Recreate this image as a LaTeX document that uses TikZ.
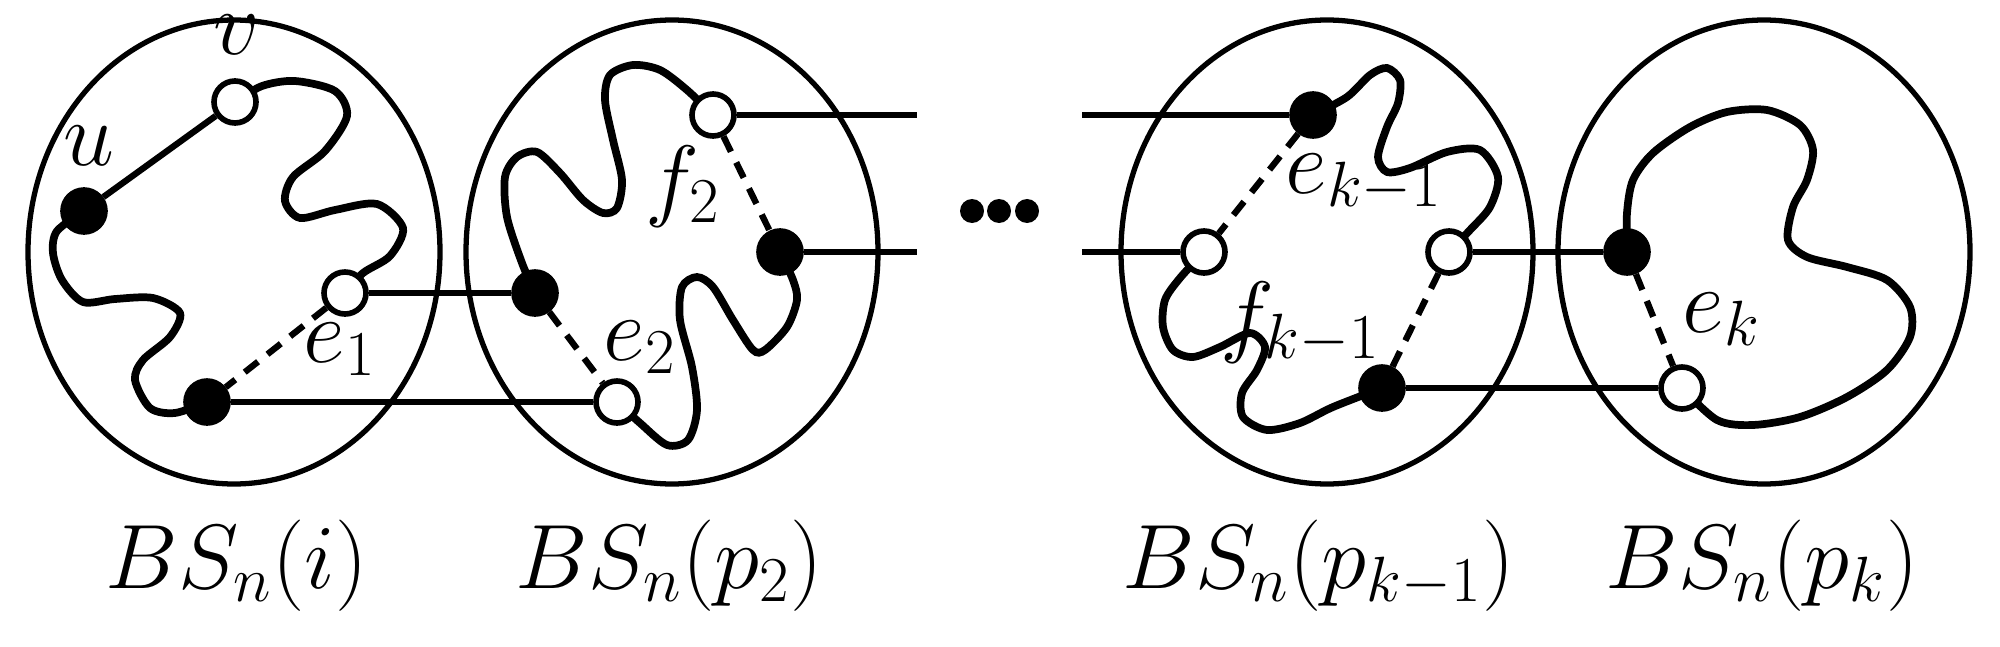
\RequirePackage{fix-cm}
\documentclass[tikz,border=0pt]{standalone}
\usepackage{tikz}
\usetikzlibrary{backgrounds}
\tikzset{
  ring/.style={draw,line width=1.5pt},
  wig/.style={line width=2.2pt,line cap=round},
  lnk/.style={line width=1.8pt},
  fk/.style={line width=1.8pt,dash pattern=on 0.17cm off 0.12cm},
  wv/.style={circle,draw,line width=1.6pt,fill=white,inner sep=0pt,minimum size=0.42cm},
  bv/.style={wv,fill=black},
  lab/.style={inner sep=0pt,anchor=base west},
  pt/.style={circle,fill=black,inner sep=0pt,minimum size=0.24cm}
}
\begin{document}
\begin{tikzpicture}[font=\fontsize{26}{31}\selectfont]
  \useasboundingbox (0,0) rectangle (20,6.46);
  % vertices
  \node[bv] (u) at (0.84,4.35) {};
  \node[wv] (v) at (2.35,5.44) {};
  \node[wv] (a1) at (3.45,3.53) {};
  \node[bv] (b1) at (2.07,2.44) {};
  \node[bv] (a2) at (5.35,3.53) {};
  \node[wv] (b2) at (6.17,2.44) {};
  \node[wv] (c2) at (7.13,5.31) {};
  \node[bv] (d2) at (7.80,3.94) {};
  \node[bv] (c3) at (13.13,5.31) {};
  \node[wv] (d3) at (12.04,3.94) {};
  \node[wv] (a3) at (14.49,3.94) {};
  \node[bv] (b3) at (13.82,2.58) {};
  \node[bv] (a4) at (16.27,3.94) {};
  \node[wv] (b4) at (16.82,2.58) {};
  \coordinate (c2e) at (9.17,5.31);
  \coordinate (d2e) at (9.17,3.94);
  \coordinate (c3s) at (10.82,5.31);
  \coordinate (d3s) at (10.82,3.94);
  \foreach \i/\x in {1/9.72,2/9.99,3/10.27}
    \node[pt] (dot\i) at (\x,4.35) {};

  % labels
  \node[lab] (lv) at (2.13,5.91) {$v$};
  \node[lab] (lu) at (0.63,4.81) {$u$};
  \node[lab] (le1) at (3.03,2.84) {$e_1$};
  \node[lab] (lf2) at (6.45,4.37) {$f_2$};
  \node[lab] (le2) at (6.03,2.86) {$e_2$};
  \node[lab] (lek1) at (12.85,4.53) {$e_{k-1}$};
  \node[lab] (lfk1) at (12.20,3.01) {$f_{k-1}$};
  \node[lab] (lek) at (16.82,3.14) {$e_k$};
  \node[lab] (bs1) at (1.05,0.58) {$BS_n(i)$};
  \node[lab] (bs2) at (5.15,0.58) {$BS_n(p_2)$};
  \node[lab] (bs3) at (11.22,0.58) {$BS_n(p_{k-1})$};
  \node[lab] (bs4) at (16.05,0.58) {$BS_n(p_k)$};

  \begin{scope}[on background layer]
    \foreach \x in {2.34,6.72,13.27,17.64}
      \draw[ring] (\x,3.94) ellipse (2.06 and 2.32);
    % paths inside the blocks
    \draw[wig] plot[smooth] coordinates {(u.center) (0.57,4.15) (0.53,3.93) (0.62,3.66) (0.83,3.44) (1.15,3.47) (1.53,3.48) (1.80,3.33) (1.70,3.09) (1.43,2.86) (1.35,2.66) (1.50,2.38) (1.75,2.33) (b1.center)};
    \draw[wig] plot[smooth] coordinates {(v.center) (2.62,5.60) (2.95,5.65) (3.35,5.55) (3.47,5.30) (3.25,4.95) (2.93,4.69) (2.85,4.45) (3.00,4.28) (3.35,4.36) (3.77,4.42) (4.03,4.18) (3.90,3.90) (3.63,3.73) (a1.center)};
    \draw[wig] plot[smooth] coordinates {(a2.center) (5.22,3.83) (5.07,4.29) (5.05,4.69) (5.17,4.89) (5.37,4.94) (5.60,4.73) (5.83,4.46) (6.03,4.33) (6.17,4.38) (6.22,4.66) (6.13,5.06) (6.05,5.46) (6.10,5.71) (6.33,5.81) (6.60,5.76) (6.87,5.56) (c2.center)};
    \draw[wig] plot[smooth] coordinates {(b2.center) (6.40,2.23) (6.67,2.01) (6.88,2.06) (6.97,2.36) (6.92,2.79) (6.80,3.26) (6.82,3.59) (6.97,3.69) (7.13,3.59) (7.33,3.26) (7.53,2.96) (7.65,2.96) (7.87,3.19) (7.97,3.46) (7.93,3.66) (d2.center)};
    \draw[wig] plot[smooth] coordinates {(c3.center) (13.47,5.49) (13.70,5.71) (13.87,5.78) (14.00,5.66) (13.98,5.43) (13.87,5.19) (13.78,4.89) (13.87,4.74) (14.10,4.78) (14.47,4.94) (14.80,4.96) (14.98,4.69) (14.90,4.39) (14.70,4.16) (a3.center)};
    \draw[wig] plot[smooth] coordinates {(d3.center) (11.80,3.68) (11.65,3.46) (11.63,3.19) (11.73,2.96) (11.93,2.89) (12.20,2.99) (12.50,3.13) (12.65,2.99) (12.57,2.76) (12.42,2.53) (12.43,2.29) (12.67,2.16) (13.00,2.23) (13.33,2.39) (b3.center)};
    \draw[wig] plot[smooth] coordinates {(a4.center) (16.27,4.33) (16.33,4.66) (16.53,4.93) (16.90,5.19) (17.27,5.34) (17.67,5.36) (18.00,5.21) (18.13,4.96) (18.07,4.66) (17.93,4.39) (17.88,4.06) (18.07,3.89) (18.47,3.79) (18.87,3.66) (19.10,3.39) (19.10,3.09) (18.87,2.76) (18.47,2.49) (18.00,2.29) (17.53,2.21) (17.17,2.26) (b4.center)};
    % edges
    \draw[lnk] (u) -- (v);
    \draw[lnk] (a1) -- (a2);
    \draw[lnk] (b1) -- (b2);
    \draw[lnk] (c2) -- (c2e);
    \draw[lnk] (d2) -- (d2e);
    \draw[lnk] (c3s) -- (c3);
    \draw[lnk] (d3s) -- (d3);
    \draw[lnk] (a3) -- (a4);
    \draw[lnk] (b3) -- (b4);
    \draw[fk] (a1) -- (b1);
    \draw[fk] (a2) -- (b2);
    \draw[fk] (c2) -- (d2);
    \draw[fk] (c3) -- (d3);
    \draw[fk] (a3) -- (b3);
    \draw[fk] (a4) -- (b4);
  \end{scope}
\end{tikzpicture}
\end{document}
